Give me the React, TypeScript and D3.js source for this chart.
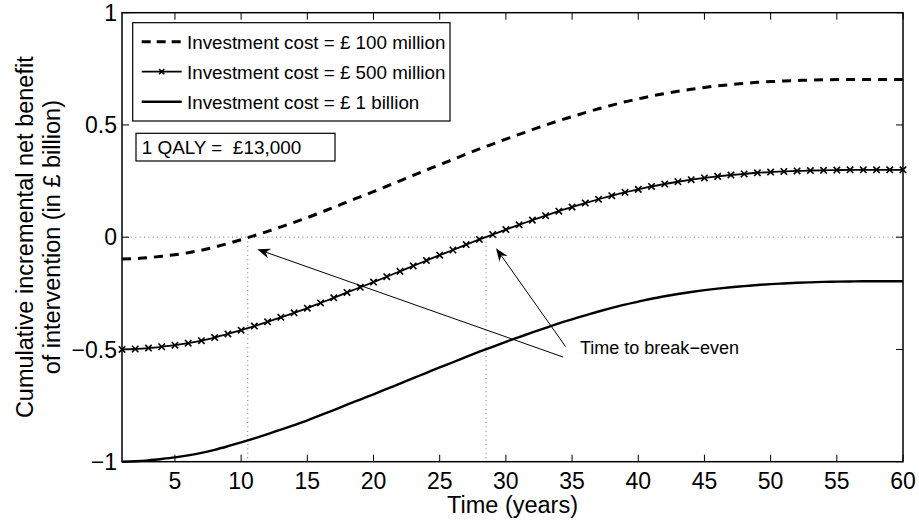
import React from "react";
import * as d3 from "d3";

const years: number[] = d3.range(1, 61);

const cost100m: number[] = [-0.097, -0.095, -0.091, -0.085, -0.078, -0.069, -0.058, -0.044, -0.028, -0.011, 0.007, 0.026, 0.046, 0.066, 0.087, 0.110, 0.133, 0.157, 0.180, 0.203, 0.227, 0.251, 0.275, 0.299, 0.323, 0.346, 0.370, 0.393, 0.415, 0.437, 0.458, 0.479, 0.499, 0.519, 0.537, 0.555, 0.572, 0.588, 0.603, 0.616, 0.629, 0.640, 0.650, 0.659, 0.667, 0.674, 0.680, 0.685, 0.690, 0.693, 0.696, 0.698, 0.700, 0.701, 0.702, 0.703, 0.703, 0.703, 0.703, 0.703];

const cost500m: number[] = [-0.500, -0.498, -0.494, -0.488, -0.481, -0.472, -0.461, -0.447, -0.431, -0.414, -0.396, -0.377, -0.357, -0.337, -0.316, -0.293, -0.270, -0.246, -0.223, -0.200, -0.176, -0.152, -0.128, -0.104, -0.080, -0.057, -0.033, -0.010, 0.012, 0.034, 0.055, 0.076, 0.096, 0.116, 0.134, 0.152, 0.169, 0.185, 0.200, 0.213, 0.226, 0.237, 0.247, 0.256, 0.264, 0.271, 0.277, 0.282, 0.287, 0.290, 0.293, 0.295, 0.297, 0.298, 0.299, 0.300, 0.300, 0.300, 0.300, 0.300];

const cost1b: number[] = [-1.000, -0.998, -0.994, -0.988, -0.981, -0.972, -0.961, -0.947, -0.931, -0.914, -0.896, -0.877, -0.857, -0.837, -0.816, -0.793, -0.770, -0.746, -0.723, -0.700, -0.676, -0.652, -0.628, -0.604, -0.580, -0.557, -0.533, -0.510, -0.488, -0.466, -0.445, -0.424, -0.404, -0.384, -0.366, -0.348, -0.331, -0.315, -0.300, -0.287, -0.274, -0.263, -0.253, -0.244, -0.236, -0.229, -0.223, -0.218, -0.213, -0.209, -0.206, -0.203, -0.201, -0.199, -0.198, -0.197, -0.196, -0.196, -0.196, -0.196];

const breakEvenYears: number[] = [10.5, 28.5];
const xTicks: number[] = [5, 10, 15, 20, 25, 30, 35, 40, 45, 50, 55, 60];
const yTicks: number[] = [-1, -0.5, 0, 0.5, 1];
const yTickLabels: string[] = ["\u22121", "\u22120.5", "0", "0.5", "1"];
const legendLabels: string[] = [
  "Investment cost = \u00a3 100 million",
  "Investment cost = \u00a3 500 million",
  "Investment cost = \u00a3 1 billion",
];

const FONT = "'Liberation Sans', Arial, Helvetica, sans-serif";

function Arrow({ x1, y1, x2, y2 }: { x1: number; y1: number; x2: number; y2: number }) {
  const ang = Math.atan2(y2 - y1, x2 - x1);
  const L = 13, W = 5, N = 9;
  const ux = Math.cos(ang), uy = Math.sin(ang);
  const px = -uy, py = ux;
  const bx = x2 - ux * L, by = y2 - uy * L;
  const nx = x2 - ux * N, ny = y2 - uy * N;
  const pts = [
    [x2, y2],
    [bx + px * W, by + py * W],
    [nx, ny],
    [bx - px * W, by - py * W],
  ];
  return (
    <g>
      <line x1={x1} y1={y1} x2={nx} y2={ny} stroke="#000" strokeWidth={1} />
      <polygon points={pts.map((p) => p.join(",")).join(" ")} fill="#000" />
    </g>
  );
}

export default function App() {
  const left = 122, right = 903, top = 12.7, bottom = 461.7;
  const x = d3.scaleLinear().domain([1, 60]).range([left, right]);
  const y = d3.scaleLinear().domain([-1, 1]).range([bottom, top]);

  const line = d3
    .line<number>()
    .x((_, i) => x(years[i]))
    .y((d) => y(d))
    .curve(d3.curveMonotoneX);

  const xMark = (cx: number, cy: number, s: number, key: any) => (
    <path
      key={key}
      d={`M${cx - s},${cy - s}L${cx + s},${cy + s}M${cx - s},${cy + s}L${cx + s},${cy - s}`}
      stroke="#000"
      strokeWidth={1.6}
      fill="none"
    />
  );

  const tickLen = 7;
  const legX1 = 141.7, legX2 = 181.7, legTextX = 187;
  const legRows = [41.7, 71.7, 101.7];

  return (
    <svg
      width={919}
      height={524}
      style={{ position: "absolute", left: 0, top: 0, background: "#fff" }}
      fontFamily={FONT}
    >
      <rect x={0} y={0} width={919} height={524} fill="#fff" />
      {/* zero reference and break-even guides */}
      <line
        x1={left}
        x2={right}
        y1={y(0)}
        y2={y(0)}
        stroke="#777"
        strokeWidth={1}
        strokeDasharray="1,3.4"
      />
      {breakEvenYears.map((b, i) => (
        <line
          key={i}
          x1={x(b)}
          x2={x(b)}
          y1={y(0)}
          y2={y(-1)}
          stroke="#777"
          strokeWidth={1}
          strokeDasharray="1,3.4"
        />
      ))}

      {/* series */}
      <path d={line(cost1b) || ""} fill="none" stroke="#000" strokeWidth={2.4} />
      <path d={line(cost500m) || ""} fill="none" stroke="#000" strokeWidth={1.8} />
      {cost500m.map((v, i) => xMark(x(years[i]), y(v), 3.2, i))}
      <path
        d={line(cost100m) || ""}
        fill="none"
        stroke="#000"
        strokeWidth={3}
        strokeDasharray="9,7"
      />

      {/* axes box */}
      <rect x={left} y={top} width={right - left} height={bottom - top} fill="none" stroke="#000" strokeWidth={1.5} />
      {xTicks.map((t) => (
        <g key={"xt" + t}>
          <line x1={x(t)} x2={x(t)} y1={bottom} y2={bottom - tickLen} stroke="#000" strokeWidth={1} />
          <line x1={x(t)} x2={x(t)} y1={top} y2={top + tickLen} stroke="#000" strokeWidth={1} />
          <text x={x(t)} y={489} fontSize={23} textAnchor="middle" fill="#000">
            {t}
          </text>
        </g>
      ))}
      {yTicks.map((t, i) => (
        <g key={"yt" + t}>
          <line x1={left} x2={left + tickLen} y1={y(t)} y2={y(t)} stroke="#000" strokeWidth={1} />
          <line x1={right} x2={right - tickLen} y1={y(t)} y2={y(t)} stroke="#000" strokeWidth={1} />
          <text x={117} y={y(t) + 8.2} fontSize={23} textAnchor="end" fill="#000">
            {yTickLabels[i]}
          </text>
        </g>
      ))}

      {/* axis labels */}
      <text x={(left + right) / 2} y={513} fontSize={23.5} textAnchor="middle" fill="#000">
        Time (years)
      </text>
      <g transform={`translate(33,${(top + bottom) / 2}) rotate(-90)`}>
        <text x={0} y={0} fontSize={23.5} textAnchor="middle" fill="#000">
          Cumulative incremental net benefit
        </text>
      </g>
      <g transform={`translate(59.5,${(top + bottom) / 2}) rotate(-90)`}>
        <text x={0} y={0} fontSize={23.5} textAnchor="middle" fill="#000">
          of intervention (in £ billion)
        </text>
      </g>

      {/* legend */}
      <rect x={132.7} y={22.7} width={317.3} height={98.3} fill="#fff" stroke="#000" strokeWidth={1.2} />
      <line x1={legX1} x2={legX2} y1={legRows[0]} y2={legRows[0]} stroke="#000" strokeWidth={3} strokeDasharray="9,6" />
      <line x1={legX1} x2={legX2} y1={legRows[1]} y2={legRows[1]} stroke="#000" strokeWidth={1.8} />
      {xMark((legX1 + legX2) / 2, legRows[1], 2.6, "lm")}
      <line x1={legX1} x2={legX2} y1={legRows[2]} y2={legRows[2]} stroke="#000" strokeWidth={2.4} />
      {legendLabels.map((l, i) => (
        <text key={l} x={legTextX} y={legRows[i] + 6.8} fontSize={18.8} fill="#000">
          {l}
        </text>
      ))}

      {/* QALY box */}
      <rect x={136} y={133.3} width={199} height={27.7} fill="#fff" stroke="#000" strokeWidth={1.2} />
      <text x={141.7} y={154} fontSize={18.9} fill="#000" style={{ whiteSpace: "pre" }}>
        {"1 QALY =  \u00a313,000"}
      </text>

      {/* annotation */}
      <Arrow x1={563} y1={357} x2={x(breakEvenYears[0]) + 9.5} y2={y(0) + 12} />
      <Arrow x1={565.5} y1={346.5} x2={x(breakEvenYears[1]) + 10} y2={y(0) + 11} />
      <text x={580} y={354} fontSize={18} fill="#000">
        Time to break{"\u2212"}even
      </text>
    </svg>
  );
}
